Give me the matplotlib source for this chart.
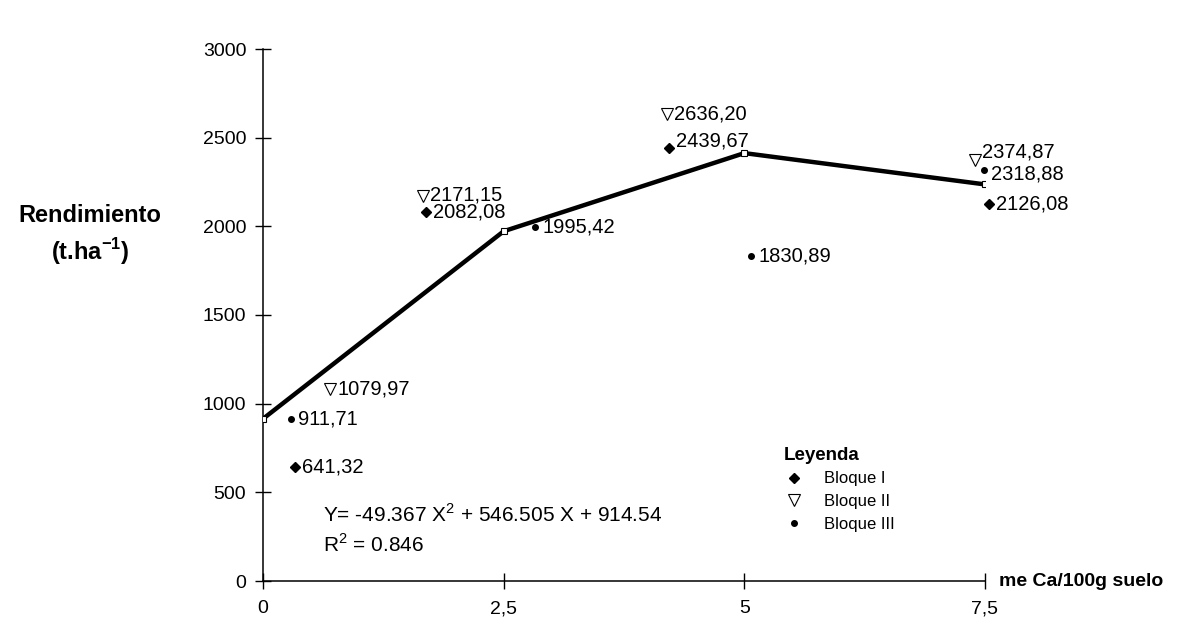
import numpy as np
import matplotlib.pyplot as plt

plt.rcParams['font.family'] = ['Liberation Sans', 'DejaVu Sans']
plt.rcParams['mathtext.fontset'] = 'custom'
plt.rcParams['mathtext.rm'] = 'Liberation Sans'
plt.rcParams['mathtext.bf'] = 'Liberation Sans:bold'

# dosis de calcio y curva ajustada
dosis = [0, 2.5, 5, 7.5]
ajuste = [914.5, 1972.3, 2412.9, 2236.4]

# rendimientos por bloque (x desplazada para que no se encimen)
b1_x = [0.33, 1.69, 4.22, 7.54]
b1_y = [641.32, 2082.08, 2439.67, 2126.08]
b2_x = [0.70, 1.66, 4.20, 7.40]
b2_y = [1079.97, 2171.15, 2636.20, 2374.87]
b3_x = [0.29, 2.83, 5.07, 7.49]
b3_y = [911.71, 1995.42, 1830.89, 2318.88]

xticks = [0, 2.5, 5, 7.5]
xlabels = ['0', '2,5', '5', '7,5']
yticks = [0, 500, 1000, 1500, 2000, 2500, 3000]

fig = plt.figure(figsize=(12, 6.23), dpi=100)
ax = fig.add_axes([263/1200, 1-581/623, 722/1200, 532/623])

ax.plot(dosis, ajuste, color='black', lw=3.2, solid_capstyle='butt', zorder=3,
        marker='s', ms=4, mfc='white', mec='black', mew=0.8)

s1, = ax.plot(b1_x, b1_y, 'D', color='black', ms=5, ls='none', clip_on=False)
s2, = ax.plot(b2_x, b2_y, 'v', mfc='white', mec='black', mew=0.8, ms=8, ls='none', clip_on=False)
s3, = ax.plot(b3_x, b3_y, 'o', color='black', ms=4, ls='none', clip_on=False)

def etiqueta(x, y, dy=0):
    ax.annotate(f'{y:.2f}'.replace('.', ','), (x, y), xytext=(5, dy),
                textcoords='offset points', ha='left', va='center',
                fontsize=14.5, annotation_clip=False)

# corrimientos verticales de las etiquetas (puntos)
dy1 = [0, 0, 5, 0]
dy2 = [0, 1, 0, 6]
dy3 = [0, 0, 0, -3]
for xs, ys, dys in [(b1_x, b1_y, dy1), (b2_x, b2_y, dy2), (b3_x, b3_y, dy3)]:
    for x, y, d in zip(xs, ys, dys):
        etiqueta(x, y, d)

ax.set_xlim(0, 7.5)
ax.set_ylim(0, 3000)
ax.set_xticks(xticks)
ax.set_xticklabels(xlabels)
ax.set_yticks(yticks)
ax.tick_params(direction='inout', length=12, width=1, labelsize=14, pad=8)
ax.tick_params(axis='y', pad=6)
for s in ['top', 'right']:
    ax.spines[s].set_visible(False)
for s in ['left', 'bottom']:
    ax.spines[s].set_linewidth(1.1)

ax.text(1.02, 0, 'me Ca/100g suelo', transform=ax.transAxes, ha='left', va='center',
        fontsize=14, fontweight='bold')
fig.text(90/1200, 1-215/623, 'Rendimiento', ha='center', va='center',
         fontsize=17, fontweight='bold')
fig.text(90/1200, 1-252/623, r'(t.ha$^{\mathbf{-1}}$)', ha='center', va='center',
         fontsize=17, fontweight='bold')

fig.text(323/1200, 1-514/623, r'Y= -49.367 X$^2$ + 546.505 X + 914.54',
         ha='left', va='center', fontsize=15)
fig.text(323/1200, 1-544/623, r'R$^2$ = 0.846', ha='left', va='center', fontsize=15)

leg = ax.legend([s1, s2, s3], ['Bloque I', 'Bloque II', 'Bloque III'],
                title='Leyenda', loc='upper left', bbox_to_anchor=(784/1200, 1-447/623),
                bbox_transform=fig.transFigure, frameon=False, fontsize=12,
                alignment='left', handlelength=1.2, handletextpad=1.2, labelspacing=0.45,
                borderaxespad=0, borderpad=0)
leg.get_title().set_fontweight('bold')
leg.get_title().set_fontsize(13.5)

fig.savefig('out.png', dpi=100)
